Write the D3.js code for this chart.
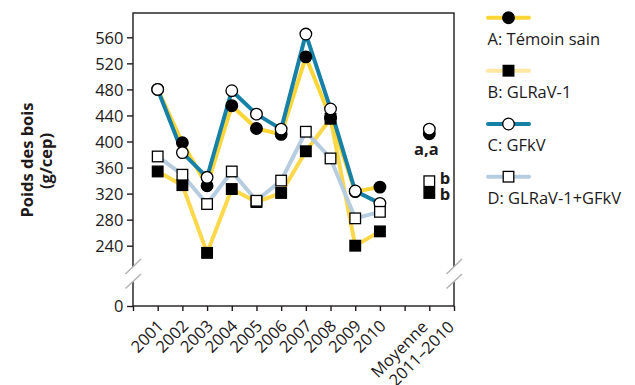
<!DOCTYPE html>
<html><head><meta charset="utf-8">
<script src="https://cdn.jsdelivr.net/npm/d3@7"></script>
<style>
body{margin:0;background:#fff;}
svg{display:block;font-family:"Open Sans", sans-serif;}
</style></head>
<body>
<script>
// ---- data ----
const years = ["2001","2002","2003","2004","2005","2006","2007","2008","2009","2010"];
const avgLabel = ["Moyenne","2011–2010"];
const seriesNames = ["A: Témoin sain","B: GLRaV-1","C: GFkV","D: GLRaV-1+GFkV"];
const valuesA = [480, 398, 332, 455, 420, 411, 530, 436, 323, 330];
const valuesB = [354, 333, 229, 327, 307, 321, 385, 435, 240, 262];
const valuesC = [480, 383, 345, 478, 442, 419, 565, 450, 324, 305];
const valuesD = [377, 349, 304, 354, 309, 340, 415, 374, 282, 292];
const averages = [412, 321, 419, 339]; // A, B, C, D
const avgLetters = ["a,a", "b", "b"];
const yTicks = [0, 240, 280, 320, 360, 400, 440, 480, 520, 560];
const yTitle = ["Poids des bois", "(g/cep)"];

const W = 635, H = 385;
const svg = d3.select("body").append("svg").attr("width", W).attr("height", H);

const pLeft = 133, pRight = 454, pTop = 13, pBottom = 306;
const x = d3.scaleLinear().domain([0, 13]).range([pLeft, pRight]);
// broken axis: 0 at bottom, upper segment linear from 220 upward
const kY = (245.7 - 37.3) / 320;
const y = d3.scaleLinear().domain([0, 220, 560]).range([pBottom, 245.7 + 20 * kY, 37.3]);
const yearPos = years.map((d, i) => i + 1);
const avgPos = 12;

const ink = "#1e1a1b";
const fs = 16.5;

// frame
svg.append("rect").attr("x", pLeft).attr("y", pTop).attr("width", pRight - pLeft).attr("height", pBottom - pTop)
  .attr("fill", "none").attr("stroke", ink).attr("stroke-width", 1.4);

// y axis
const yAxis = d3.axisLeft(y).tickValues(yTicks).tickSize(6).tickPadding(3.5).tickFormat(d3.format("d"));
const gy = svg.append("g").attr("transform", `translate(${pLeft},0)`).call(yAxis);
gy.select(".domain").remove();
gy.selectAll(".tick line").attr("stroke", ink).attr("stroke-width", 1.4);
gy.selectAll(".tick text").attr("fill", ink).style("font-size", fs + "px").style("font-family", "'Open Sans'").attr("dy", "0.36em");

// x axis
const xAxis = d3.axisBottom(x).tickValues(d3.range(0, 14)).tickSize(5).tickFormat("");
const gx = svg.append("g").attr("transform", `translate(0,${pBottom})`).call(xAxis);
gx.select(".domain").remove();
gx.selectAll(".tick line").attr("stroke", ink).attr("stroke-width", 1.4);

// x labels
const xl = svg.append("g").style("font-size", fs + "px").attr("fill", ink);
years.forEach((yr, i) => {
  const px = x(yearPos[i]) + 7, py = 327;
  xl.append("text").attr("x", px).attr("y", py).attr("text-anchor", "end")
    .attr("transform", `rotate(-45,${px},${py})`).text(yr);
});
[[avgLabel[0], -0.5], [avgLabel[1], 26]].forEach(([t, off]) => {
  const px = x(avgPos) + off, py = 328;
  xl.append("text").attr("x", px).attr("y", py).attr("text-anchor", "end")
    .attr("transform", `rotate(-45,${px},${py})`).text(t);
});

// axis breaks
function brk(ax) {
  svg.append("rect").attr("x", ax - 2).attr("y", 267).attr("width", 4).attr("height", 14.6).attr("fill", "#fff");
  [[274, 259], [288.5, 274]].forEach(([y1, y2]) => {
    svg.append("line").attr("x1", ax - 7.5).attr("y1", y1).attr("x2", ax + 8).attr("y2", y2)
      .attr("stroke", "#b3b3b3").attr("stroke-width", 1.5);
  });
}
brk(pLeft); brk(pRight);

// y title
const tg = svg.append("g").style("font-size", fs + "px").style("font-weight", "bold").attr("fill", ink);
tg.append("text").attr("transform", "translate(33.3,160) rotate(-90)").attr("text-anchor", "middle").text(yTitle[0]);
tg.append("text").attr("transform", "translate(51.5,161) rotate(-90)").attr("text-anchor", "middle").text(yTitle[1]);

// series
const series = [
  {name: seriesNames[1], vals: valuesB, color: "#fcd84a", legendColor: "#fde7a2", shape: "square", fill: "#000"},
  {name: seriesNames[0], vals: valuesA, color: "#fcd537", legendColor: "#fcd537", shape: "circle", fill: "#000"},
  {name: seriesNames[3], vals: valuesD, color: "#b6cde0", legendColor: "#b6cde0", shape: "square", fill: "#fff"},
  {name: seriesNames[2], vals: valuesC, color: "#1680a7", legendColor: "#1680a7", shape: "circle", fill: "#fff"},
];
const line = d3.line().x((d, i) => x(yearPos[i])).y(d => y(d));
series.forEach(s => {
  svg.append("path").datum(s.vals).attr("d", line).attr("fill", "none")
    .attr("stroke", s.color).attr("stroke-width", 4).attr("stroke-linejoin", "round");
});
function marker(g, shape, fill, cx, cy) {
  if (shape === "circle") {
    g.append("circle").attr("cx", cx).attr("cy", cy).attr("r", 5.8)
      .attr("fill", fill).attr("stroke", "#000").attr("stroke-width", 1.3);
  } else {
    g.append("rect").attr("x", cx - 5.3).attr("y", cy - 5.3).attr("width", 10.6).attr("height", 10.6)
      .attr("fill", fill).attr("stroke", "#000").attr("stroke-width", 1.3);
  }
}
const markerOrder = [series[0], series[1], series[3], series[2]]; // B, A, C, D
const mg = svg.append("g");
markerOrder.forEach(s => {
  s.vals.forEach((v, i) => marker(mg, s.shape, s.fill, x(yearPos[i]), y(v)));
});
// averages
marker(mg, "circle", "#000", x(avgPos), y(averages[0]));
marker(mg, "circle", "#fff", x(avgPos), y(averages[2]));
marker(mg, "square", "#fff", x(avgPos), y(averages[3]));
marker(mg, "square", "#000", x(avgPos), y(averages[1]));

const lg = svg.append("g").style("font-size", fs + "px").style("font-weight", "bold").attr("fill", ink);
lg.append("text").attr("x", x(avgPos) - 3).attr("y", 154.5).attr("text-anchor", "middle").text(avgLetters[0]);
lg.append("text").attr("x", x(avgPos) + 10.5).attr("y", 184).text(avgLetters[1]);
lg.append("text").attr("x", x(avgPos) + 10.5).attr("y", 200).text(avgLetters[2]);

// legend
const legendItems = [
  {s: series[1], ly: 17.7},
  {s: series[0], ly: 70.7},
  {s: series[3], ly: 124},
  {s: series[2], ly: 176.7},
];
const leg = svg.append("g");
legendItems.forEach(({s, ly}) => {
  leg.append("line").attr("x1", 488).attr("x2", 529).attr("y1", ly).attr("y2", ly)
    .attr("stroke", s.legendColor).attr("stroke-width", 4).attr("stroke-linecap", "round");
  marker(leg, s.shape, s.fill, 508.5, ly);
  leg.append("text").attr("x", 487.5).attr("y", ly + 27.3).style("font-size", fs + "px").attr("fill", ink).text(s.name);
});
</script>
</body></html>
